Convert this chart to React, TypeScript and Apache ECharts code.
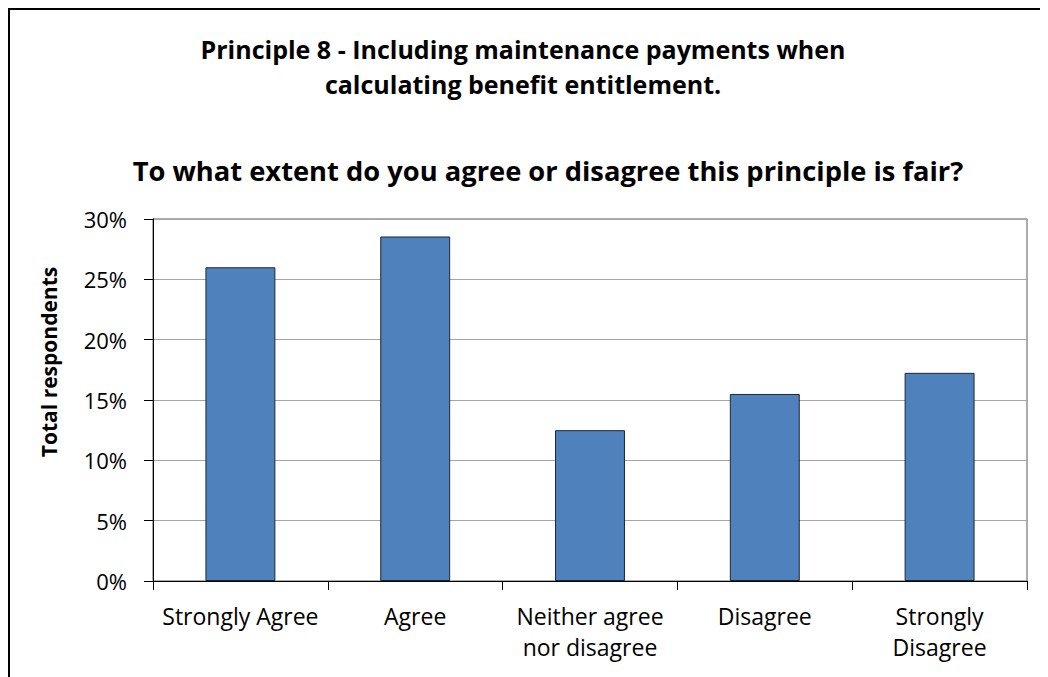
import React, { useEffect, useRef } from "react";
import * as echarts from "echarts";

const categories = ["Strongly Agree", "Agree", "Neither agree\nnor disagree", "Disagree", "Strongly\nDisagree"];
const values = [26.0, 28.55, 12.5, 15.5, 17.25];
const titleLine1 = "Principle 8 - Including maintenance payments when";
const titleLine2 = "calculating benefit entitlement.";
const subtitle = "To what extent do you agree or disagree this principle is fair?";
const yAxisName = "Total respondents";

const FONT = "'Open Sans', Lato, sans-serif";

export default function App() {
  const ref = useRef<HTMLDivElement>(null);
  useEffect(() => {
    if (!ref.current) return;
    const chart = echarts.init(ref.current, null, { renderer: "svg" });
    const titleStyle = { fontFamily: FONT, fontSize: 25, fontWeight: "bold", color: "#000" };
    chart.setOption({
      animation: false,
      backgroundColor: "#ffffff",
      title: [
        { text: titleLine1, left: 510, top: 23, textAlign: "center", textStyle: titleStyle },
        { text: titleLine2, left: 510, top: 58, textAlign: "center", textStyle: titleStyle },
        {
          text: subtitle,
          left: 535,
          top: 144,
          textAlign: "center",
          textStyle: { ...titleStyle, fontSize: 27.3 },
        },
      ],
      graphic: [
        {
          type: "rect",
          shape: { x: 1, y: 1, width: 1200, height: 800 },
          style: { fill: "none", stroke: "#000", lineWidth: 2 },
          silent: true,
        },
        {
          type: "text",
          x: 41,
          y: 354,
          rotation: Math.PI / 2,
          style: {
            text: yAxisName,
            fontFamily: FONT,
            fontSize: 21,
            fontWeight: "bold",
            fill: "#000",
            align: "center",
            verticalAlign: "middle",
          },
        },
      ],
      grid: {
        left: 145,
        top: 211,
        right: 21,
        bottom: 96,
        show: true,
        borderColor: "#595959",
        borderWidth: 1,
        backgroundColor: "#fff",
      },
      xAxis: {
        type: "category",
        data: categories,
        axisLine: { lineStyle: { color: "#000", width: 1 } },
        axisTick: { show: true, length: 9, lineStyle: { color: "#000" }, alignWithLabel: false },
        axisLabel: {
          fontFamily: FONT,
          fontSize: 23,
          color: "#000",
          margin: 19,
          lineHeight: 31,
          interval: 0,
        },
      },
      yAxis: {
        type: "value",
        min: 0,
        max: 30,
        interval: 5,
        axisLine: { show: true, lineStyle: { color: "#000", width: 1 } },
        axisTick: { show: true, length: 9, lineStyle: { color: "#000" } },
        axisLabel: {
          fontFamily: FONT,
          fontSize: 22,
          color: "#000",
          margin: 26,
          formatter: (v: number) => `${v}%`,
        },
        splitLine: { show: true, lineStyle: { color: "#a6a6a6", width: 1 } },
      },
      series: [
        {
          type: "bar",
          data: values,
          barWidth: "40%",
          itemStyle: { color: "#4F81BD", borderColor: "#1c2633", borderWidth: 1 },
        },
      ],
    });
    return () => chart.dispose();
  }, []);
  return <div ref={ref} style={{ width: 1040, height: 669 }} />;
}
